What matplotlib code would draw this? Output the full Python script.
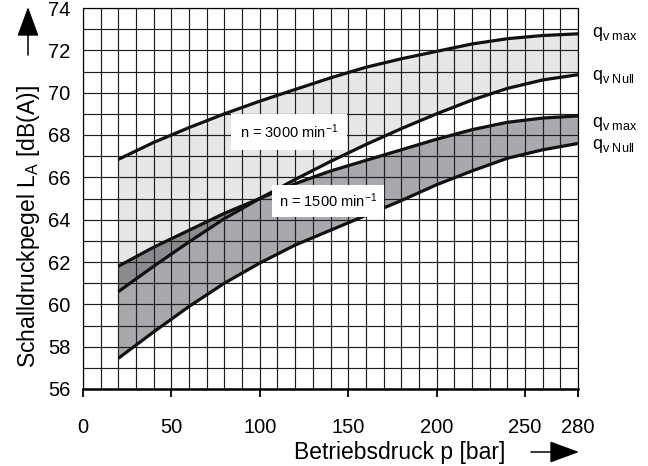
import numpy as np
import matplotlib
matplotlib.use("Agg")
import matplotlib.pyplot as plt

plt.rcParams['font.family'] = ['Liberation Sans', 'DejaVu Sans']
plt.rcParams['mathtext.fontset'] = 'custom'
plt.rcParams['mathtext.rm'] = 'Liberation Sans'
plt.rcParams['mathtext.it'] = 'Liberation Sans:italic'

# Betriebsdruck p [bar]
p = [20, 40, 60, 80, 100, 120, 140, 160, 180, 200, 220, 240, 260, 280]
# Schalldruckpegel [dB(A)]
n3000_qmax = [66.85, 67.65, 68.35, 69.0, 69.6, 70.15, 70.7, 71.2, 71.6, 71.95, 72.3, 72.55, 72.7, 72.78]
n3000_qnull = [60.6, 61.8, 62.95, 64.05, 65.0, 65.9, 66.75, 67.55, 68.3, 69.0, 69.65, 70.2, 70.6, 70.85]
n1500_qmax = [61.8, 62.7, 63.5, 64.3, 65.0, 65.7, 66.3, 66.8, 67.3, 67.8, 68.25, 68.6, 68.8, 68.9]
n1500_qnull = [57.45, 58.7, 59.9, 61.0, 61.95, 62.8, 63.5, 64.2, 64.9, 65.65, 66.3, 66.9, 67.3, 67.6]

xticks = [0, 50, 100, 150, 200, 250, 280]
yticks = [56, 58, 60, 62, 64, 66, 68, 70, 72, 74]

end_labels = [r"q$_{\mathrm{v\ max}}$", r"q$_{\mathrm{v\ Null}}$",
              r"q$_{\mathrm{v\ max}}$", r"q$_{\mathrm{v\ Null}}$"]
end_label_y = [72.75, 70.75, 68.5, 67.5]

x = np.array(p)
a = np.array(n3000_qmax)
b = np.array(n3000_qnull)
c = np.array(n1500_qmax)
d = np.array(n1500_qnull)

fig = plt.figure(figsize=(6.48, 4.66), dpi=100)
ax = fig.add_axes([83/648, 77/466, 495/648, 381/466])

light = '#e6e7e9'
mid = '#a7a9ac'
dark = '#898b8e'

ax.fill_between(x, b, a, color=light, lw=0, zorder=1)
ax.fill_between(x, d, c, color=mid, lw=0, zorder=1.1)
ax.fill_between(x, b, c, where=(b < c), interpolate=True, color=dark, lw=0, zorder=1.2)

# grid
for gx in range(0, 281, 10):
    ax.axvline(gx, color='#1e1e1e', lw=0.85, zorder=2)
for gy in range(56, 75):
    ax.axhline(gy, color='#1e1e1e', lw=0.85, zorder=2)

for yy in (a, b, c, d):
    ax.plot(x, yy, color='#111111', lw=2.3, solid_capstyle='butt', solid_joinstyle='round', zorder=3)

ax.text(116.5, 68.14, r"n = 3000 min$^{\mathrm{-1}}$", fontsize=10.5, ha='center', va='center',
        bbox=dict(boxstyle='square,pad=0.6', fc='white', ec='none'), zorder=4)
ax.text(138.5, 64.88, r"n = 1500 min$^{\mathrm{-1}}$", fontsize=10.5, ha='center', va='center',
        bbox=dict(boxstyle='square,pad=0.45', fc='white', ec='none'), zorder=4)

for lab, ly in zip(end_labels, end_label_y):
    ax.text(288, ly, lab, fontsize=13, ha='left', va='center', clip_on=False)

ax.set_xlim(0, 280)
ax.set_ylim(56, 74)
ax.set_xticks(xticks)
ax.set_xticklabels([str(t) for t in xticks], fontsize=14.5)
ax.set_yticks(yticks)
ax.set_yticklabels([str(t) for t in yticks], fontsize=14.5)
ax.tick_params(axis='x', direction='out', length=6, width=1.3, pad=15)
ax.tick_params(axis='y', length=0, pad=9)

for s in ('top', 'right', 'left'):
    ax.spines[s].set_linewidth(0.85)
ax.spines['bottom'].set_linewidth(1.8)

fig.text(400/648, 1 - 452/466, "Betriebsdruck p [bar]", fontsize=16.5, ha='center', va='center')
fig.text(29/648, 1 - 227/466, r"Schalldruckpegel L$_{\mathrm{A}}$ [dB(A)]", fontsize=16.5,
         ha='center', va='center', rotation=90)

arrow = dict(arrowstyle='-|>,head_length=1.85,head_width=0.68', mutation_scale=10,
             color='black', lw=1.1, shrinkA=0, shrinkB=0)
ax.annotate('', xy=(28, 466 - 7), xytext=(28, 466 - 55), xycoords='figure pixels',
            textcoords='figure pixels', arrowprops=arrow)
ax.annotate('', xy=(579, 466 - 452), xytext=(531, 466 - 452), xycoords='figure pixels',
            textcoords='figure pixels', arrowprops=arrow)

fig.savefig('out.png', dpi=100)
